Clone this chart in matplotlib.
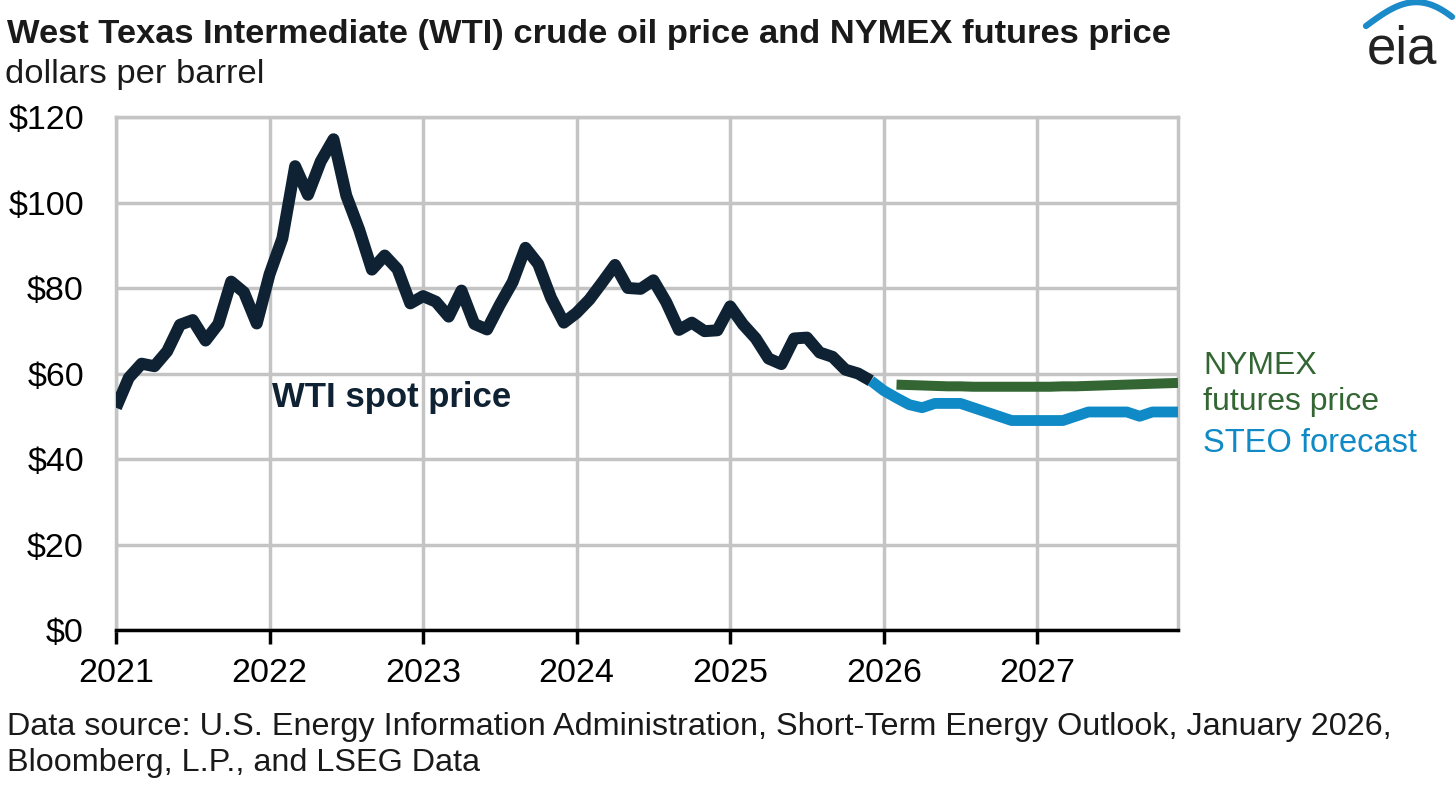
import matplotlib.pyplot as plt
import numpy as np

plt.rcParams['font.family'] = ['Liberation Sans', 'DejaVu Sans']

# monthly WTI spot price, Jan 2021 - Dec 2025
wti = [52.0, 59.0, 62.3, 61.7, 65.2, 71.4, 72.5, 67.7, 71.6, 81.5, 79.0, 71.7,
       83.2, 91.6, 108.5, 101.8, 109.6, 114.8, 101.6, 93.7, 84.3, 87.6, 84.4, 76.4,
       78.1, 76.8, 73.3, 79.4, 71.6, 70.3, 76.1, 81.4, 89.4, 85.6, 77.7, 71.9,
       74.2, 77.3, 81.3, 85.4, 80.0, 79.8, 81.8, 76.7, 70.2, 71.9, 69.9, 70.1,
       75.7, 71.5, 68.2, 63.5, 62.2, 68.2, 68.4, 64.9, 63.9, 60.9, 60.0, 58.3]
# STEO forecast, Dec 2025 - Dec 2027
steo = [58.3, 56.0, 54.3, 52.7, 52.0, 53.0, 53.0, 53.0, 52.0, 51.0, 50.0, 49.0,
        49.0, 49.0, 49.0, 49.0, 50.0, 51.0, 51.0, 51.0, 51.0, 50.0, 51.0, 51.0, 51.0]
# NYMEX futures, Feb 2026 - Dec 2027
nymex = [57.4, 57.3, 57.2, 57.1, 57.0, 57.0, 56.9, 56.9, 56.9, 56.9, 56.9,
         56.9, 56.9, 57.0, 57.0, 57.1, 57.2, 57.3, 57.4, 57.5, 57.6, 57.7, 57.8]
years = ['2021', '2022', '2023', '2024', '2025', '2026', '2027']
yticks = [0, 20, 40, 60, 80, 100, 120]

x_wti = np.arange(len(wti))
x_steo = np.arange(len(steo)) + 59
x_nymex = np.arange(len(nymex)) + 61

fig = plt.figure(figsize=(14.56, 7.85), dpi=100)
ax = fig.add_axes([116/1456, 1 - 630/785, (1178-116)/1456, (630-117)/785])

grid_c = '#c4c4c4'
ax.plot(x_wti, wti, color='#0f2233', lw=8.6, solid_capstyle='butt', solid_joinstyle='round', zorder=3)
ax.plot(x_nymex, nymex, color='#336633', lw=7.2, solid_capstyle='butt', zorder=4)
ax.plot(x_steo, steo, color='#0f8ac6', lw=7.8, solid_capstyle='butt', solid_joinstyle='round', zorder=4)

ax.set_xlim(0, 83)
ax.set_ylim(0, 120)
ax.set_xticks(np.arange(len(years)) * 12)
ax.set_xticklabels(years)
ax.set_yticks(yticks)
ax.set_yticklabels(['$' + str(v) for v in yticks])
ax.grid(True, color=grid_c, lw=2.5)
ax.set_axisbelow(True)
for s in ['left', 'top', 'right']:
    ax.spines[s].set_color(grid_c)
    ax.spines[s].set_linewidth(2.5)
ax.spines['bottom'].set_color('black')
ax.spines['bottom'].set_linewidth(2.5)
ax.spines['bottom'].set_zorder(5)
ax.tick_params(axis='x', length=10, width=2.5, color='black', labelsize=24.5, pad=10)
ax.tick_params(axis='y', length=0, labelsize=24.5, pad=23)

ax.text(12.2, 54.4, 'WTI spot price', fontsize=25, fontweight='bold', color='#0f2233', va='center')

fig.text(1203/1456, 1 - 366/785, 'NYMEX', fontsize=23, color='#336633', va='center')
fig.text(1203/1456, 1 - 402/785, 'futures price', fontsize=23, color='#336633', va='center')
fig.text(1203/1456, 1 - 444/785, 'STEO forecast', fontsize=23.5, color='#0f8ac6', va='center')

fig.text(7/1456, 1 - 35/785, 'West Texas Intermediate (WTI) crude oil price and NYMEX futures price',
         fontsize=24.8, fontweight='bold', color='#1a1a1a', va='center')
fig.text(5/1456, 1 - 75/785, 'dollars per barrel', fontsize=24.8, color='#1a1a1a', va='center')
fig.text(7/1456, 1 - 727/785,
         'Data source: U.S. Energy Information Administration, Short-Term Energy Outlook, January 2026,',
         fontsize=23.3, color='#1a1a1a', va='center')
fig.text(7/1456, 1 - 763/785, 'Bloomberg, L.P., and LSEG Data', fontsize=23.3, color='#1a1a1a', va='center')

# eia logo
fig.text(1402/1456, 1 - 50/785, 'eia', fontsize=38, color='#222222', ha='center', va='center')
t = np.linspace(0, 1, 60)
lx = 1366 + 86 * t
ly = 26 - 30 * np.sin(np.pi * t * 0.78) + 10 * t
fig.add_artist(plt.Line2D(lx / 1456, 1 - ly / 785, color='#1a8ac8', lw=4.5,
                          solid_capstyle='round', transform=fig.transFigure))

fig.savefig('out.png', dpi=100)
